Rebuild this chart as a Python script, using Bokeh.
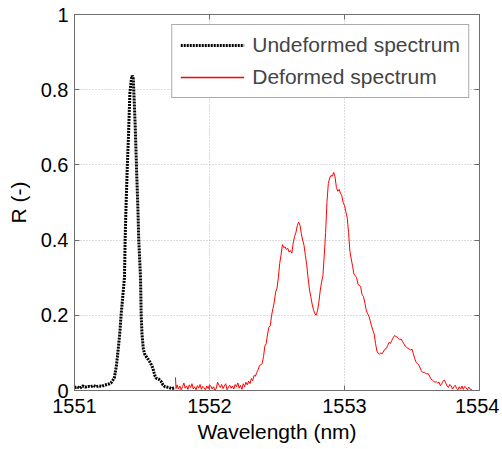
from bokeh.plotting import figure
from bokeh.models import LinearAxis, FixedTicker, Legend, LegendItem, Range1d
from bokeh.embed import file_html
from bokeh.resources import INLINE

# Undeformed spectrum (black dotted)
und_wl = [1551.00, 1551.02, 1551.04, 1551.06, 1551.08, 1551.10, 1551.12, 1551.14,
          1551.16, 1551.18, 1551.20, 1551.22, 1551.24, 1551.26, 1551.27, 1551.285,
          1551.296, 1551.31, 1551.32, 1551.335, 1551.345, 1551.36, 1551.37, 1551.375,
          1551.38, 1551.39, 1551.40, 1551.41, 1551.42, 1551.427, 1551.435, 1551.44,
          1551.45, 1551.46, 1551.47, 1551.476, 1551.489, 1551.494, 1551.50, 1551.51,
          1551.52, 1551.535, 1551.555, 1551.57, 1551.58, 1551.595, 1551.605, 1551.625,
          1551.64, 1551.655, 1551.67, 1551.70, 1551.72, 1551.745]
und_r = [0.008, 0.010, 0.006, 0.012, 0.009, 0.011, 0.010, 0.013,
         0.010, 0.012, 0.011, 0.014, 0.016, 0.018, 0.020, 0.028,
         0.035, 0.065, 0.097, 0.150, 0.200, 0.260, 0.300, 0.400,
         0.470, 0.585, 0.680, 0.790, 0.825, 0.838, 0.830, 0.790,
         0.700, 0.585, 0.480, 0.400, 0.300, 0.200, 0.150, 0.110,
         0.097, 0.088, 0.078, 0.068, 0.060, 0.040, 0.033, 0.030,
         0.025, 0.015, 0.010, 0.008, 0.005, 0.007]

# Deformed spectrum (red)
def_wl = [1551.748, 1551.752, 1551.76, 1551.77, 1551.78, 1551.79, 1551.80, 1551.81,
          1551.82, 1551.83, 1551.84, 1551.85, 1551.86, 1551.87, 1551.88, 1551.89,
          1551.90, 1551.91, 1551.92, 1551.93, 1551.94, 1551.95, 1551.96, 1551.97,
          1551.98, 1551.99, 1552.00, 1552.01, 1552.02, 1552.03, 1552.04, 1552.05,
          1552.06, 1552.07, 1552.08, 1552.09, 1552.10, 1552.11, 1552.12, 1552.13,
          1552.14, 1552.15, 1552.16, 1552.17, 1552.18, 1552.19, 1552.20, 1552.21,
          1552.22, 1552.23, 1552.24, 1552.25, 1552.26, 1552.27, 1552.28, 1552.29,
          1552.30, 1552.31, 1552.32, 1552.33, 1552.34, 1552.35, 1552.36, 1552.37,
          1552.38, 1552.39, 1552.40, 1552.41, 1552.42, 1552.43, 1552.44, 1552.45,
          1552.46, 1552.47, 1552.48, 1552.49, 1552.50, 1552.51, 1552.52, 1552.53,
          1552.54, 1552.55, 1552.56, 1552.57, 1552.58, 1552.59, 1552.60, 1552.61,
          1552.62, 1552.63, 1552.64, 1552.65, 1552.66, 1552.67, 1552.68, 1552.69,
          1552.70, 1552.71, 1552.72, 1552.73, 1552.74, 1552.75, 1552.76, 1552.77,
          1552.78, 1552.79, 1552.80, 1552.81, 1552.82, 1552.83, 1552.84, 1552.85,
          1552.86, 1552.87, 1552.88, 1552.89, 1552.90, 1552.91, 1552.92, 1552.93,
          1552.94, 1552.95, 1552.96, 1552.97, 1552.98, 1552.99, 1553.00, 1553.01,
          1553.02, 1553.03, 1553.04, 1553.05, 1553.06, 1553.07, 1553.08, 1553.09,
          1553.10, 1553.11, 1553.12, 1553.13, 1553.14, 1553.15, 1553.16, 1553.17,
          1553.18, 1553.19, 1553.20, 1553.21, 1553.22, 1553.23, 1553.24, 1553.25,
          1553.26, 1553.27, 1553.28, 1553.29, 1553.30, 1553.31, 1553.32, 1553.33,
          1553.34, 1553.35, 1553.36, 1553.37, 1553.38, 1553.39, 1553.40, 1553.41,
          1553.42, 1553.43, 1553.44, 1553.45, 1553.46, 1553.47, 1553.48, 1553.49,
          1553.50, 1553.51, 1553.52, 1553.53, 1553.54, 1553.55, 1553.56, 1553.57,
          1553.58, 1553.59, 1553.60, 1553.61, 1553.62, 1553.63, 1553.64, 1553.65,
          1553.66, 1553.67, 1553.68, 1553.69, 1553.70, 1553.71, 1553.72, 1553.73,
          1553.74, 1553.75, 1553.76, 1553.77, 1553.78, 1553.79, 1553.80, 1553.81,
          1553.82, 1553.83, 1553.84, 1553.85, 1553.86, 1553.87, 1553.88, 1553.89,
          1553.90, 1553.91, 1553.92, 1553.93, 1553.945]
def_r = [0.035, 0.005, 0.015, 0.004, 0.012, 0.002, 0.010, 0.020,
         0.006, 0.012, 0.003, 0.015, 0.008, 0.018, 0.004, 0.010,
         0.002, 0.013, 0.006, 0.016, 0.003, 0.011, 0.007, 0.002,
         0.012, 0.005, 0.015, 0.012, 0.004, 0.010, 0.001, 0.006,
         0.022, 0.014, 0.008, 0.016, 0.005, 0.012, 0.018, 0.002,
         0.009, 0.014, 0.006, 0.012, 0.004, 0.016, 0.010, 0.020,
         0.006, 0.014, 0.003, 0.018, 0.010, 0.022, 0.015, 0.025,
         0.018, 0.032, 0.026, 0.040, 0.038, 0.048, 0.055, 0.066,
         0.068, 0.072, 0.090, 0.118, 0.125, 0.150, 0.168, 0.172,
         0.200, 0.218, 0.236, 0.262, 0.272, 0.300, 0.338, 0.360,
         0.388, 0.380, 0.382, 0.375, 0.378, 0.368, 0.372, 0.365,
         0.392, 0.410, 0.420, 0.438, 0.448, 0.440, 0.418, 0.400,
         0.386, 0.360, 0.335, 0.300, 0.270, 0.250, 0.230, 0.215,
         0.205, 0.200, 0.212, 0.235, 0.265, 0.288, 0.305, 0.360,
         0.420, 0.500, 0.550, 0.565, 0.572, 0.570, 0.580, 0.568,
         0.540, 0.530, 0.535, 0.525, 0.518, 0.500, 0.492, 0.475,
         0.460, 0.420, 0.370, 0.350, 0.330, 0.310, 0.305, 0.300,
         0.282, 0.280, 0.275, 0.255, 0.250, 0.235, 0.215, 0.205,
         0.198, 0.186, 0.172, 0.160, 0.150, 0.125, 0.105, 0.098,
         0.097, 0.100, 0.098, 0.105, 0.110, 0.112, 0.120, 0.128,
         0.125, 0.133, 0.140, 0.146, 0.144, 0.142, 0.138, 0.136,
         0.137, 0.130, 0.124, 0.118, 0.115, 0.112, 0.110, 0.108,
         0.110, 0.098, 0.085, 0.075, 0.072, 0.068, 0.060, 0.052,
         0.048, 0.049, 0.046, 0.044, 0.045, 0.038, 0.031, 0.028,
         0.025, 0.022, 0.023, 0.020, 0.022, 0.013, 0.018, 0.025,
         0.028, 0.020, 0.012, 0.008, 0.016, 0.012, 0.004, 0.010,
         0.014, 0.006, 0.002, 0.010, 0.004, 0.012, 0.003, 0.011,
         0.008, 0.002, 0.009, 0.004, 0.001]

x_ticks = [1551, 1552, 1553, 1554]
y_ticks = [0, 0.2, 0.4, 0.6, 0.8, 1]
y_tick_labels = ["0", "0.2", "0.4", "0.6", "0.8", "1"]
x_tick_labels = ["1551", "1552", "1553", "1554"]
series_names = ["Undeformed spectrum", "Deformed spectrum"]

FONT = "Liberation Sans"
AXIS_COLOR = "#6e6e6e"
RED = "#ff0000"

p = figure(frame_width=405, frame_height=376,
           x_range=Range1d(1551, 1554), y_range=Range1d(0, 1),
           output_backend="svg", toolbar_location=None,
           min_border_left=74, min_border_top=14, min_border_right=20,
           min_border_bottom=56)
p.background_fill_color = "white"
p.border_fill_color = "white"
p.outline_line_color = AXIS_COLOR

r_und = p.line(und_wl, und_r, line_color="black", line_width=3, line_dash="2 1")
r_def = p.line(def_wl, def_r, line_color=RED, line_width=1)
# legend key for the red series: a one-point line (draws nothing in the plot)
r_def_key = p.line(def_wl[:1], def_r[:1], line_color=RED, line_width=1.4)

for ax in (p.xaxis[0], p.yaxis[0]):
    ax.major_tick_in = 5
    ax.major_tick_out = 0
    ax.minor_tick_line_color = None
    ax.axis_line_color = AXIS_COLOR
    ax.major_tick_line_color = AXIS_COLOR
    ax.major_label_text_font = FONT
    ax.major_label_text_font_size = "20px"
    ax.major_label_text_color = "black"
    ax.axis_label_text_font = FONT
    ax.axis_label_text_font_size = "21px"
    ax.axis_label_text_font_style = "normal"
    ax.axis_label_text_color = "black"

p.xaxis[0].ticker = FixedTicker(ticks=x_ticks)
p.xaxis[0].major_label_overrides = dict(zip(x_ticks, x_tick_labels))
p.yaxis[0].ticker = FixedTicker(ticks=y_ticks)
p.yaxis[0].major_label_overrides = dict(zip(y_ticks, y_tick_labels))
p.xaxis[0].axis_label = "Wavelength (nm)"
p.yaxis[0].axis_label = "R (-)"
p.xaxis[0].major_label_standoff = 8
p.xaxis[0].axis_label_standoff = 4
p.yaxis[0].major_label_standoff = 6
p.yaxis[0].axis_label_standoff = 8

top_ax = LinearAxis(ticker=FixedTicker(ticks=x_ticks), major_tick_in=5, major_tick_out=0,
                    minor_tick_line_color=None, axis_line_color=AXIS_COLOR,
                    major_tick_line_color=AXIS_COLOR, major_label_text_color=None,
                    major_label_text_font_size="0px")
right_ax = LinearAxis(ticker=FixedTicker(ticks=y_ticks), major_tick_in=5, major_tick_out=0,
                      minor_tick_line_color=None, axis_line_color=AXIS_COLOR,
                      major_tick_line_color=AXIS_COLOR, major_label_text_color=None,
                      major_label_text_font_size="0px")
p.add_layout(top_ax, "above")
p.add_layout(right_ax, "right")

p.xgrid.ticker = FixedTicker(ticks=x_ticks)
p.ygrid.ticker = FixedTicker(ticks=y_ticks)
for g in (p.xgrid[0], p.ygrid[0]):
    g.grid_line_color = "#b8b8b8"
    g.grid_line_dash = "1 2"
    g.grid_line_width = 1

legend = Legend(items=[LegendItem(label=series_names[0], renderers=[r_und]),
                       LegendItem(label=series_names[1], renderers=[r_def_key])],
                location="top_right", margin=10, padding=8, spacing=8,
                glyph_width=64, glyph_height=18, label_height=18, label_standoff=8,
                label_text_font=FONT, label_text_font_size="21px",
                border_line_color="#555555", border_line_width=1,
                background_fill_color="white", background_fill_alpha=1)
p.add_layout(legend, "center")

open("out.html", "w").write(file_html(p, INLINE))
